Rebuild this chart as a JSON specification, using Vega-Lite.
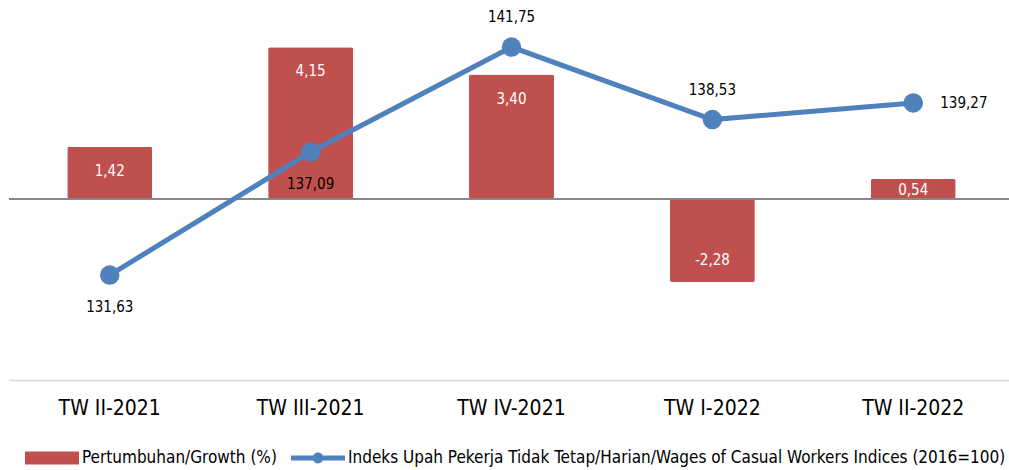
{
  "$schema": "https://vega.github.io/schema/vega-lite/v6.json",
  "autosize": "none",
  "width": 1005,
  "height": 380,
  "padding": {"left": 9, "top": 0, "right": 0, "bottom": 90},
  "background": "white",
  "config": {
    "view": {"stroke": null},
    "font": "DejaVu Sans Condensed",
    "locale": {"number": {"decimal": ",", "thousands": ".", "grouping": [3], "currency": ["Rp", ""], "minus": "-"}}
  },
  "data": {
    "values": [
      {"q": "TW II-2021", "growth": 1.42, "index": 131.63},
      {"q": "TW III-2021", "growth": 4.15, "index": 137.09},
      {"q": "TW IV-2021", "growth": 3.40, "index": 141.75},
      {"q": "TW I-2022", "growth": -2.28, "index": 138.53},
      {"q": "TW II-2022", "growth": 0.54, "index": 139.27}
    ]
  },
  "layer": [
    {
      "mark": {"type": "bar", "cornerRadius": 2},
      "encoding": {
        "x": {
          "field": "q", "type": "nominal", "sort": null,
          "scale": {"paddingInner": 0.577, "paddingOuter": 0.29},
          "axis": {"title": null, "labelAngle": 0, "ticks": false, "domainColor": "#D9D9D9", "domainWidth": 1.5, "labelFontSize": 21, "labelPadding": 17, "labelColor": "#000000", "labelFont": "DejaVu Sans Condensed"}
        },
        "y": {"field": "growth", "type": "quantitative", "scale": {"domain": [-4.96, 5.44], "nice": false, "zero": false}, "axis": null},
        "color": {
          "datum": "Pertumbuhan/Growth (%)", "type": "nominal",
          "scale": {"domain": ["Pertumbuhan/Growth (%)", "Indeks Upah Pekerja Tidak Tetap/Harian/Wages of Casual Workers Indices (2016=100)"], "range": ["#C0504D", "#4F81BD"]},
          "legend": {
            "orient": "none", "legendX": 16, "legendY": 431, "direction": "horizontal", "title": null,
            "symbolSize": 2916, "labelFontSize": 17, "labelFont": "DejaVu Sans Condensed", "labelColor": "#000000", "labelLimit": 0,
            "columnPadding": 14, "labelOffset": 3, "symbolStrokeWidth": 0,
            "encode": {
              "symbols": {
                "update": {
                  "shape": {"signal": "datum.value === 'Pertumbuhan/Growth (%)' ? 'M-1,-0.24H1V0.24H-1Z' : 'M-1,-0.09H1V0.09H-1Z M0.2,0A0.2,0.2 0 1,1 -0.2,0A0.2,0.2 0 1,1 0.2,0Z'"},
                  "fill": {"signal": "datum.value === 'Pertumbuhan/Growth (%)' ? '#C0504D' : '#4F81BD'"},
                  "strokeWidth": {"value": 0},
                  "opacity": {"value": 1}
                }
              }
            }
          }
        }
      }
    },
    {
      "mark": {"type": "rule", "color": "#868686", "strokeWidth": 1.5},
      "encoding": {"y": {"datum": 0, "type": "quantitative", "scale": {"domain": [-4.96, 5.44], "nice": false, "zero": false}, "axis": null}}
    },
    {
      "transform": [{"filter": "datum.growth >= 1"}],
      "mark": {"type": "text", "color": "white", "fontSize": 15, "dy": 24, "baseline": "middle"},
      "encoding": {
        "x": {"field": "q", "type": "nominal", "sort": null},
        "y": {"field": "growth", "type": "quantitative", "scale": {"domain": [-4.96, 5.44], "nice": false, "zero": false}, "axis": null},
        "text": {"field": "growth", "type": "quantitative", "format": ".2f"}
      }
    },
    {
      "transform": [{"filter": "datum.growth > 0 && datum.growth < 1"}],
      "mark": {"type": "text", "color": "white", "fontSize": 15, "dy": 11, "baseline": "middle"},
      "encoding": {
        "x": {"field": "q", "type": "nominal", "sort": null},
        "y": {"field": "growth", "type": "quantitative", "scale": {"domain": [-4.96, 5.44], "nice": false, "zero": false}, "axis": null},
        "text": {"field": "growth", "type": "quantitative", "format": ".2f"}
      }
    },
    {
      "transform": [{"filter": "datum.growth < 0"}],
      "mark": {"type": "text", "color": "white", "fontSize": 15, "dy": -22, "baseline": "middle"},
      "encoding": {
        "x": {"field": "q", "type": "nominal", "sort": null},
        "y": {"field": "growth", "type": "quantitative", "scale": {"domain": [-4.96, 5.44], "nice": false, "zero": false}, "axis": null},
        "text": {"field": "growth", "type": "quantitative", "format": ".2f"}
      }
    },
    {
      "mark": {"type": "line", "strokeWidth": 5, "point": {"size": 380, "filled": true, "opacity": 1}},
      "encoding": {
        "x": {"field": "q", "type": "nominal", "sort": null},
        "y": {"field": "index", "type": "quantitative", "scale": {"domain": [126.97, 143.84], "nice": false, "zero": false}, "axis": null},
        "color": {"datum": "Indeks Upah Pekerja Tidak Tetap/Harian/Wages of Casual Workers Indices (2016=100)", "type": "nominal"}
      }
    },
    {
      "transform": [{"filter": "datum.q === 'TW II-2021' || datum.q === 'TW III-2021'"}],
      "mark": {"type": "text", "color": "black", "fontSize": 15, "dy": 32, "baseline": "middle"},
      "encoding": {
        "x": {"field": "q", "type": "nominal", "sort": null},
        "y": {"field": "index", "type": "quantitative", "scale": {"domain": [126.97, 143.84], "nice": false, "zero": false}, "axis": null},
        "text": {"field": "index", "type": "quantitative", "format": ".2f"}
      }
    },
    {
      "transform": [{"filter": "datum.q === 'TW IV-2021' || datum.q === 'TW I-2022'"}],
      "mark": {"type": "text", "color": "black", "fontSize": 15, "dy": -30, "baseline": "middle"},
      "encoding": {
        "x": {"field": "q", "type": "nominal", "sort": null},
        "y": {"field": "index", "type": "quantitative", "scale": {"domain": [126.97, 143.84], "nice": false, "zero": false}, "axis": null},
        "text": {"field": "index", "type": "quantitative", "format": ".2f"}
      }
    },
    {
      "transform": [{"filter": "datum.q === 'TW II-2022'"}],
      "mark": {"type": "text", "color": "black", "fontSize": 15, "dx": 27, "align": "left", "baseline": "middle"},
      "encoding": {
        "x": {"field": "q", "type": "nominal", "sort": null},
        "y": {"field": "index", "type": "quantitative", "scale": {"domain": [126.97, 143.84], "nice": false, "zero": false}, "axis": null},
        "text": {"field": "index", "type": "quantitative", "format": ".2f"}
      }
    }
  ],
  "resolve": {"scale": {"y": "independent"}}
}
